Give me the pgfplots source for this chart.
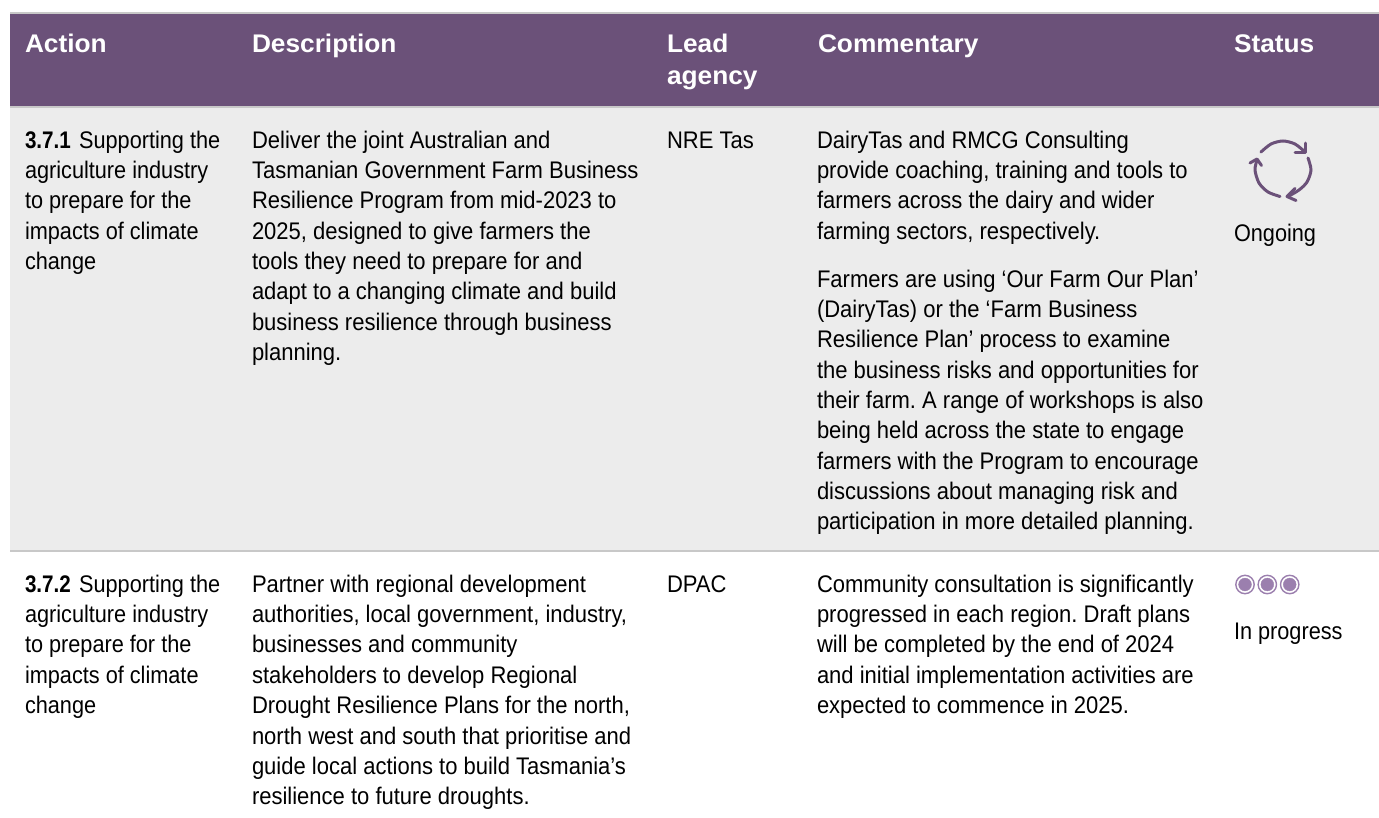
\documentclass[border=0pt]{standalone}
\usepackage{pgfplots}
\pgfplotsset{compat=1.18}
\usepackage{fontspec}
\setmainfont{Liberation Sans}
\definecolor{hdr}{HTML}{6B5179}
\definecolor{rowg}{HTML}{ECECEC}
\definecolor{rul}{HTML}{C8C8C8}
\definecolor{dot}{HTML}{9B7FAE}
\newcommand{\T}[3]{\node[anchor=base west,inner sep=0pt,outer sep=0pt,text=black] at (axis cs:#1,#2) {\scalebox{0.917}[1]{\fontsize{24}{28}\selectfont #3}};}
\newcommand{\Tc}[3]{\node[anchor=base west,inner sep=0pt,outer sep=0pt,text=black] at (axis cs:#1,#2) {\scalebox{0.904}[1]{\fontsize{24}{28}\selectfont #3}};}
\newcommand{\B}[1]{\scalebox{0.95}[1]{\textbf{#1}}\kern2.5pt\relax}
\newcommand{\HH}[3]{\node[anchor=base west,inner sep=0pt,outer sep=0pt,text=white] at (axis cs:#1,#2) {\scalebox{1.03}[1]{\fontsize{25.5}{29}\selectfont\bfseries #3}};}
\begin{document}
\begin{tikzpicture}
\begin{axis}[name=A,scale only axis,width=1379pt,height=817pt,xmin=0,xmax=1379,ymin=0,ymax=817,y dir=reverse,hide axis,clip=false]
\addplot[fill=white,draw=none] coordinates {(0,0)(1379,0)(1379,817)(0,817)} -- cycle;
\addplot[fill=rowg,draw=none] coordinates {(10,106)(1379,106)(1379,550)(10,550)} -- cycle;
\addplot[fill=hdr,draw=none] coordinates {(10,12)(1379,12)(1379,106)(10,106)} -- cycle;
\addplot[rul,line width=2pt] coordinates {(10,13)(1379,13)};
\addplot[rul,line width=2pt] coordinates {(10,107)(1379,107)};
\addplot[rul,line width=2pt] coordinates {(10,551)(1379,551)};
% icon
\addplot[hdr,line width=3pt,smooth,line cap=round] coordinates {(1261,152)(1271,144)(1283,141)(1295,144)(1305,152)};
\addplot[hdr,line width=3pt,line cap=round,line join=round] coordinates {(1305.5,143)(1305.5,152.5)(1295,152.5)};
\addplot[hdr,line width=3pt,smooth,line cap=round] coordinates {(1308,158)(1311,170)(1307,182)(1299,190)(1288,196.5)};
\addplot[hdr,line width=3pt,line cap=round,line join=round] coordinates {(1295,188.5)(1287,196.5)(1296,200.5)};
\addplot[hdr,line width=3pt,smooth,line cap=round] coordinates {(1280,196.5)(1268,192)(1259,183)(1255,170)(1257,160)};
\addplot[hdr,line width=3pt,line cap=round,line join=round] coordinates {(1250,163)(1257,159)(1261.5,165.5)};
% dots
\addplot[only marks,mark=*,mark size=9.2pt,mark options={draw=dot,line width=1.4pt,fill=white}] coordinates {(1245,584.5)(1267.3,584.5)(1289.7,584.5)};
\addplot[only marks,mark=*,mark size=6.4pt,mark options={draw=dot,fill=dot}] coordinates {(1245,584.5)(1267.3,584.5)(1289.7,584.5)};
% header
\HH{25}{52.5}{Action}
\HH{252}{52.5}{Description}
\HH{667}{52.5}{Lead}
\HH{667}{84}{agency}
\HH{818}{52.5}{Commentary}
\HH{1234}{52.5}{Status}
% col 1
\Tc{25}{148}{\B{3.7.1} Supporting the}
\Tc{25}{178.3}{agriculture industry}
\Tc{25}{208.6}{to prepare for the}
\Tc{25}{239}{impacts of climate}
\Tc{25}{269.3}{change}
\Tc{25}{592}{\B{3.7.2} Supporting the}
\Tc{25}{622.4}{agriculture industry}
\Tc{25}{652.8}{to prepare for the}
\Tc{25}{683.2}{impacts of climate}
\Tc{25}{713.6}{change}
% col 2
\T{252}{148}{Deliver the joint Australian and}
\T{252}{178.3}{Tasmanian Government Farm Business}
\T{252}{208.6}{Resilience Program from mid-2023 to}
\T{252}{239}{2025, designed to give farmers the}
\T{252}{269.3}{tools they need to prepare for and}
\T{252}{299.6}{adapt to a changing climate and build}
\T{252}{330}{business resilience through business}
\T{252}{360.3}{planning.}
\T{252}{592}{Partner with regional development}
\T{252}{622.4}{authorities, local government, industry,}
\T{252}{652.8}{businesses and community}
\T{252}{683.2}{stakeholders to develop Regional}
\T{252}{713.6}{Drought Resilience Plans for the north,}
\T{252}{744}{north west and south that prioritise and}
\T{252}{774.4}{guide local actions to build Tasmania’s}
\T{252}{804.8}{resilience to future droughts.}
% col 3
\T{667}{148}{NRE Tas}
\T{667}{592}{DPAC}
% col 4
\T{817}{148}{DairyTas and RMCG Consulting}
\T{817}{178.3}{provide coaching, training and tools to}
\T{817}{208.6}{farmers across the dairy and wider}
\T{817}{239}{farming sectors, respectively.}
\T{817}{287}{Farmers are using ‘Our Farm Our Plan’}
\T{817}{317.3}{(DairyTas) or the ‘Farm Business}
\T{817}{347.6}{Resilience Plan’ process to examine}
\T{817}{378}{the business risks and opportunities for}
\T{817}{408.3}{\frenchspacing their farm. A range of workshops is also}
\T{817}{438.6}{being held across the state to engage}
\T{817}{469}{farmers with the Program to encourage}
\T{817}{499.3}{discussions about managing risk and}
\T{817}{529.6}{participation in more detailed planning.}
\T{817}{592}{Community consultation is significantly}
\T{817}{622.4}{\frenchspacing progressed in each region. Draft plans}
\T{817}{652.8}{will be completed by the end of 2024}
\T{817}{683.2}{and initial implementation activities are}
\T{817}{713.6}{expected to commence in 2025.}
% status
\Tc{1234}{241.5}{Ongoing}
\Tc{1234}{639}{In progress}
\end{axis}
\pgfresetboundingbox
\path[use as bounding box] (A.south west) rectangle (A.north east);
\end{tikzpicture}
\end{document}
